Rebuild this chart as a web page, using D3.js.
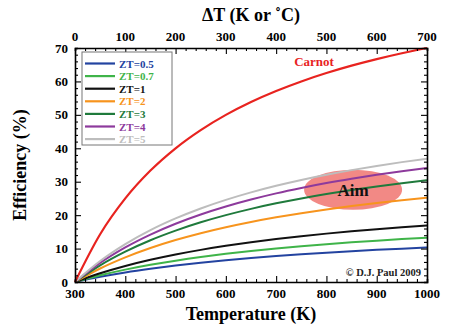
<!DOCTYPE html>
<html><head><meta charset="utf-8">
<script src="https://cdn.jsdelivr.net/npm/d3@7"></script>
<style>body{margin:0;background:#fff}svg{display:block}svg text{font-family:'Liberation Serif','DejaVu Serif','Times New Roman',Times,serif !important;font-weight:bold}</style>
</head><body><svg id="c" width="451" height="328"></svg>
<script>
const temps = [300,350,400,450,500,550,600,650,700,750,800,850,900,950,1000];
const carnot = [0,14.29,25.0,33.33,40.0,45.45,50.0,53.85,57.14,60.0,62.5,64.71,66.67,68.42,70.0];
const zt05 = [0,1.54,2.85,3.96,4.93,5.77,6.52,7.18,7.77,8.30,8.78,9.22,9.62,9.98,10.32];
const zt07 = [0,2.01,3.70,5.14,6.38,7.47,8.42,9.27,10.02,10.70,11.31,11.87,12.37,12.84,13.26];
const zt1 = [0,2.61,4.79,6.64,8.23,9.61,10.82,11.89,12.85,13.70,14.47,15.17,15.80,16.38,16.91];
const zt2 = [0,4.04,7.37,10.17,12.56,14.61,16.40,17.97,19.36,20.60,21.71,22.72,23.63,24.46,25.22];
const zt3 = [0,5.00,9.09,12.50,15.38,17.86,20.00,21.88,23.53,25.00,26.32,27.50,28.57,29.55,30.43];
const zt4 = [0,5.71,10.35,14.19,17.43,20.20,22.59,24.67,26.51,28.13,29.59,30.89,32.07,33.14,34.12];
const zt5 = [0,6.26,11.33,15.51,19.01,22.00,24.57,26.81,28.78,30.52,32.07,33.47,34.73,35.86,36.90];
const seriesNames = ["ZT=0.5","ZT=0.7","ZT=1","ZT=2","ZT=3","ZT=4","ZT=5"];
const seriesValues = [zt05,zt07,zt1,zt2,zt3,zt4,zt5];
const seriesColors = ["#2343a0","#3fb449","#111111","#f7941d","#1f7a3c","#8d3a9c","#bdbdbd"];
const bottomTicks = [300,400,500,600,700,800,900,1000];
const topTicks = [0,100,200,300,400,500,600,700];
const leftTicks = [0,10,20,30,40,50,60,70];

const svg = d3.select("#c");
const L=75, R=427, T=48, B=282;
const x = d3.scaleLinear().domain([300,1000]).range([L,R]);
const xTop = d3.scaleLinear().domain([0,700]).range([L,R]);
const y = d3.scaleLinear().domain([0,70]).range([B,T]);

const line = vals => d3.line().x((d,i)=>x(temps[i])).y(d=>y(d)).curve(d3.curveMonotoneX)(vals);

svg.append("ellipse").attr("cx",x(853)).attr("cy",y(27.6)).attr("rx",49).attr("ry",20)
  .attr("fill","#f07470").attr("opacity",0.85);

seriesValues.forEach((v,i)=>{
  svg.append("path").attr("d",line(v)).attr("fill","none").attr("stroke",seriesColors[i]).attr("stroke-width",2);
});
svg.append("path").attr("d",line(carnot)).attr("fill","none").attr("stroke","#e8231f").attr("stroke-width",2.2);

svg.append("text").attr("x",x(853)).attr("y",y(27.6)+6).attr("text-anchor","middle").attr("font-size",17).attr("fill","#111").text("Aim");
svg.append("text").attr("x",314).attr("y",66).attr("text-anchor","middle").attr("font-size",13).attr("fill","#e8231f").text("Carnot");
svg.append("text").attr("x",421).attr("y",276).attr("text-anchor","end").attr("font-size",10.5).attr("fill","#222").text("\u00a9 D.J. Paul 2009");

const tf = d3.format("d");
const gBottom = svg.append("g").attr("transform",`translate(0,${B})`);
gBottom.call(d3.axisBottom(x).tickValues(d3.range(300,1001,20)).tickSize(-3).tickFormat(""));
gBottom.call(g=>g.selectAll(".tick").filter(d=>d%100===0).select("line").attr("y2",-6));
const gTop = svg.append("g").attr("transform",`translate(0,${T})`);
gTop.call(d3.axisTop(xTop).tickValues(d3.range(0,701,20)).tickSize(-3).tickFormat(""));
gTop.call(g=>g.selectAll(".tick").filter(d=>d%100===0).select("line").attr("y2",6));
const gLeft = svg.append("g").attr("transform",`translate(${L},0)`);
gLeft.call(d3.axisLeft(y).tickValues(d3.range(0,71,2)).tickSize(-3).tickFormat(""));
gLeft.call(g=>g.selectAll(".tick").filter(d=>d%10===0).select("line").attr("x2",6));
const gRight = svg.append("g").attr("transform",`translate(${R},0)`);
gRight.call(d3.axisRight(y).tickValues(d3.range(0,71,2)).tickSize(-3).tickFormat(""));
gRight.call(g=>g.selectAll(".tick").filter(d=>d%10===0).select("line").attr("x2",-6));
[gBottom,gTop,gLeft,gRight].forEach(g=>{g.select(".domain").attr("stroke","#000").attr("stroke-width",1.6);g.selectAll(".tick line").attr("stroke","#000").attr("stroke-width",1.1);});

svg.append("g").selectAll("text").data(bottomTicks).join("text").attr("x",d=>x(d)).attr("y",B+16).attr("text-anchor","middle").attr("font-size",13).text(tf);
svg.append("g").selectAll("text").data(topTicks).join("text").attr("x",d=>xTop(d)).attr("y",T-7).attr("text-anchor","middle").attr("font-size",13).text(tf);
svg.append("g").selectAll("text").data(leftTicks).join("text").attr("x",L-7).attr("y",d=>y(d)+4.5).attr("text-anchor","end").attr("font-size",13).text(tf);

svg.append("text").attr("x",251).attr("y",320).attr("text-anchor","middle").attr("font-size",18).text("Temperature (K)");
svg.append("text").attr("x",251).attr("y",21).attr("text-anchor","middle").attr("font-size",18).text("\u0394T (K or \u02daC)");
svg.append("text").attr("transform",`translate(26,${(T+B)/2}) rotate(-90)`).attr("text-anchor","middle").attr("font-size",18).text("Efficiency (%)");

const lg = svg.append("g");
lg.append("rect").attr("x",82).attr("y",52).attr("width",90).attr("height",93).attr("fill","#fff").attr("stroke","#777").attr("stroke-width",1);
seriesNames.forEach((n,i)=>{
  const yy = 63.5+i*12.6;
  lg.append("line").attr("x1",85).attr("x2",115).attr("y1",yy).attr("y2",yy).attr("stroke",seriesColors[i]).attr("stroke-width",2.2);
  lg.append("text").attr("x",119).attr("y",yy+4).attr("font-size",11).attr("fill",seriesColors[i]).text(n);
});
</script></body></html>
